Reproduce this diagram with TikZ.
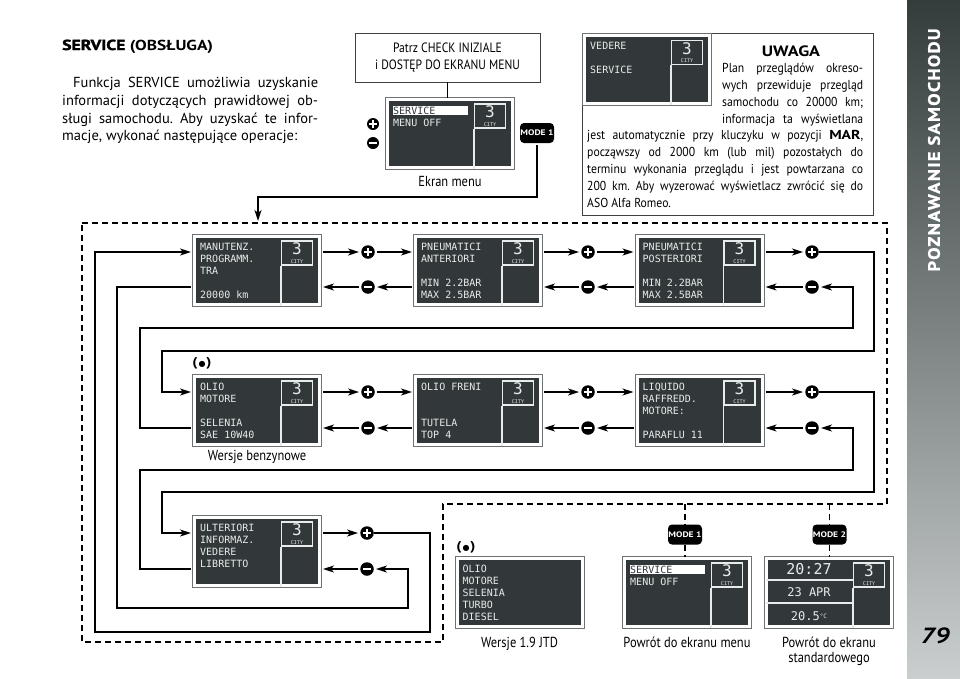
\documentclass[tikz,border=0pt]{standalone}
\usepackage{fontspec}
\setmainfont{PT Sans}
\newfontfamily\narrowfont{PT Sans}[FakeStretch=0.86]
\newfontfamily\notefont{PT Sans}[FakeStretch=0.9]
\newfontfamily\headfont{PT Sans}[FakeStretch=1.2]
\newfontfamily\heavyfont{PT Sans}[FakeStretch=1.22, BoldFeatures={FakeBold=2}]
\newfontfamily\sidefont{PT Sans}[FakeStretch=1.12, LetterSpace=8.0, BoldFeatures={FakeBold=1.2}]
\newfontfamily\lcdfont{DejaVu Sans Mono}
\newfontfamily\symfont{DejaVu Sans}
\usetikzlibrary{positioning, arrows.meta}
\definecolor{LcdGray}{RGB}{50,56,57}
\definecolor{LcdInk}{RGB}{232,235,235}
\definecolor{FrameGray}{RGB}{110,114,114}
\definecolor{SideTop}{RGB}{52,60,60}
\definecolor{SideBot}{RGB}{202,206,207}

% one LCD screen: name, centre x, centre y, lines
\newcommand{\lcdscreen}[4]{%
  \node[lcd] (#1) at (#2,#3) {};
  \node[citybox] (#1-c) at ({#2+40},{#3-17})
        {3\\{\fontsize{5}{5}\selectfont CITY}};
  \draw[lcdline] (#1-c.south west) -- (#1-c.south west |- #1.south);
  \node[lcdtext] (#1-t) at ({#2-57},{#3-27}) {#4};
}
\newcommand{\hlbar}[1]{\rlap{\color{white}\rule[-1pt]{75pt}{9pt}}%
  \textcolor{LcdGray}{#1}}
\newcommand{\dotmark}{(\hspace{1pt}{\symfont\fontsize{8}{8}\selectfont ●}\hspace{1pt})}
\frenchspacing

\begin{document}
\begin{tikzpicture}[x=1pt, y=-1pt,
    lcd/.style={rectangle, fill=LcdGray, draw=white, line width=3pt,
                minimum width=125pt, minimum height=68pt, inner sep=0pt,
                preaction={draw=FrameGray, line width=5pt}},
    citybox/.style={rectangle, draw=LcdInk, line width=1.3pt,
                minimum width=31pt, minimum height=24pt, inner sep=0pt,
                align=center, text=LcdInk,
                font=\lcdfont\fontsize{16}{8.5}\selectfont},
    lcdline/.style={draw=LcdInk, line width=1.3pt},
    lcdtext/.style={anchor=north west, inner sep=0pt, align=left,
                text=LcdInk, font=\lcdfont\fontsize{10}{12}\selectfont},
    lcdbig/.style={text=LcdInk, inner sep=0pt,
                font=\lcdfont\fontsize{15}{15}\selectfont},
    lcdmid/.style={text=LcdInk, inner sep=0pt,
                font=\lcdfont\fontsize{12}{12}\selectfont},
    plusbtn/.style={circle, fill=black, minimum size=13.5pt, inner sep=0pt,
                path picture={\draw[white, line width=2.6pt]
                  ([xshift=-4pt]path picture bounding box.center) --
                  ([xshift=4pt]path picture bounding box.center)
                  ([yshift=-4pt]path picture bounding box.center) --
                  ([yshift=4pt]path picture bounding box.center);}},
    minusbtn/.style={circle, fill=black, minimum size=13.5pt, inner sep=0pt,
                path picture={\draw[white, line width=2.6pt]
                  ([xshift=-4pt]path picture bounding box.center) --
                  ([xshift=4pt]path picture bounding box.center);}},
    modebtn/.style={rectangle, rounded corners=4pt, fill=black, text=white,
                minimum width=34pt, minimum height=20pt, inner sep=0pt,
                font=\headfont\bfseries\fontsize{8}{8}\selectfont},
    infobox/.style={rectangle, draw=black!75, line width=0.9pt, fill=white,
                inner sep=0pt},
    caption/.style={inner sep=1pt, align=center,
                font=\narrowfont\fontsize{14.5}{15}\selectfont},
    notetext/.style={anchor=north west, align=justify, inner sep=0pt,
                font=\notefont\fontsize{13}{17}\selectfont},
    dotlabel/.style={inner sep=0pt,
                font=\headfont\bfseries\fontsize{13}{13}\selectfont},
    wire/.style={line width=1.5pt},
    arr/.style={-{Stealth[length=11pt, width=7pt, inset=3pt]},
                line width=1.5pt, shorten >=2pt, shorten <=2pt},
    dsh/.style={dash pattern=on 6pt off 4pt, line width=1.4pt}
  ]
  \useasboundingbox (0,0) rectangle (960,678);
  \fill[white] (0,0) rectangle (960,678);

  % chapter strip
  \shade[top color=SideTop, bottom color=SideBot] (907,0) rectangle (960,678);
  \node[rotate=90, text=white,
        font=\sidefont\bfseries\fontsize{16.5}{16}\selectfont]
        (chapter) at (934,150) {POZNAWANIE SAMOCHODU};
  \node[font=\headfont\bfseries\itshape\fontsize{22}{22}\selectfont]
        (pageno) at (935,636) {79};

  % heading
  \node[anchor=base west, inner sep=0pt,
        font=\headfont\bfseries\fontsize{14.5}{17}\selectfont]
        (title) at (62,50) {{\heavyfont SERVICE} (OBSŁUGA)};
  \node[anchor=north west, text width=256pt, align=justify, inner sep=0pt,
        font=\fontsize{14.5}{17.8}\selectfont] (intro) at (62,77)
        {\noindent\hspace*{11pt}Funkcja SERVICE umożliwia uzyskanie\linebreak
         informacji dotyczących prawidłowej ob-\linebreak
         sługi samochodu. Aby uzyskać te infor-\linebreak
         macje, wykonać następujące operacje:};

  % menu screen
  \node[infobox, minimum width=185pt, minimum height=49pt, align=center,
        font=\narrowfont\fontsize{13.5}{17}\selectfont] (patrz) at (447.5,57.5)
        {Patrz CHECK INIZIALE\\i DOSTĘP DO EKRANU MENU};
  \lcdscreen{menulcd}{450}{133}{\hlbar{SERVICE}\\MENU OFF}
  \node[plusbtn, minimum size=12pt] (topplus) at (373,124) {};
  \node[minusbtn, minimum size=12pt] (topminus) at (373,143) {};
  \node[modebtn] (modetop) at (537,133) {MODE 1};
  \node[caption, below=7pt of menulcd] (menucap) {Ekran menu};
  \draw[wire] (patrz.south) -- (patrz.south |- menulcd.north);
  \coordinate (entry) at (258,223);
  \draw[arr] (modetop.south) |- (258,197) -- (entry);

  % note
  \node[infobox, minimum width=291pt, minimum height=182pt]
        (uwagabox) at (727.5,124) {};
  \lcdscreen{notelcd}{647}{69.5}{VEDERE\\~\\SERVICE}
  \node[font=\headfont\bfseries\fontsize{15}{16}\selectfont]
        (uwaga) at (791,51) {UWAGA};
  \node[notetext, text width=141pt] (notetop) at (722,63)
        {\parfillskip=0pt\noindent Plan przeglądów okreso-\linebreak
         wych przewiduje przegląd\linebreak
         samochodu co 20000 km;\linebreak
         informacja ta wyświetlana\par};
  \node[notetext, text width=276pt] (notebot) at (587,130)
        {\noindent jest automatycznie przy kluczyku w pozycji
         {\headfont\bfseries MAR},\linebreak
         począwszy od 2000 km (lub mil) pozostałych do\linebreak
         terminu wykonania przeglądu i jest powtarzana co\linebreak
         200 km. Aby wyzerować wyświetlacz zwrócić się do\linebreak
         ASO Alfa Romeo.};

  % service loop
  \draw[dsh] (82,223) -- (887,223) -- (887,504) -- (443,504)
             -- (443,642) -- (82,642) -- cycle;

  \lcdscreen{manut}{257}{270}{MANUTENZ.\\PROGRAMM.\\TRA\\~\\20000 km}
  \lcdscreen{pneuant}{478}{270}{PNEUMATICI\\ANTERIORI\\~\\MIN 2.2BAR\\MAX 2.5BAR}
  \lcdscreen{pneupost}{699.5}{270}{PNEUMATICI\\POSTERIORI\\~\\MIN 2.2BAR\\MAX 2.5BAR}
  \lcdscreen{olio}{257}{410}{OLIO\\MOTORE\\~\\SELENIA\\SAE 10W40}
  \lcdscreen{freni}{478}{410}{OLIO FRENI\\~\\~\\TUTELA\\TOP 4}
  \lcdscreen{liquido}{699.5}{410}{LIQUIDO\\RAFFREDD.\\MOTORE:\\~\\PARAFLU 11}
  \lcdscreen{ulter}{257}{551}{ULTERIORI\\INFORMAZ.\\VEDERE\\LIBRETTO}
  \node[dotlabel] (dotolio) at (202,363) {\dotmark};
  \node[caption, below=4pt of olio] (oliocap) {Wersje benzynowe};

  \node[plusbtn]  (pa) at (368,252) {};
  \node[minusbtn] (ma) at (368,287) {};
  \node[plusbtn]  (pb) at (588,252) {};
  \node[minusbtn] (mb) at (588,287) {};
  \node[plusbtn]  (pc) at (812,252) {};
  \node[minusbtn] (mc) at (812,287) {};
  \node[plusbtn]  (pd) at (368,392) {};
  \node[minusbtn] (md) at (368,428) {};
  \node[plusbtn]  (pe) at (588,392) {};
  \node[minusbtn] (me) at (588,428) {};
  \node[plusbtn]  (pf) at (812,392) {};
  \node[minusbtn] (mf) at (812,428) {};
  \node[plusbtn]  (pg) at (367,533) {};
  \node[minusbtn] (mg) at (367,569) {};

  \draw[arr] (manut.east |- pa) -- (pa);
  \draw[arr] (pa) -- (pneuant.west |- pa);
  \draw[arr] (pneuant.west |- ma) -- (ma);
  \draw[arr] (ma) -- (manut.east |- ma);
  \draw[arr] (pneuant.east |- pb) -- (pb);
  \draw[arr] (pb) -- (pneupost.west |- pb);
  \draw[arr] (pneupost.west |- mb) -- (mb);
  \draw[arr] (mb) -- (pneuant.east |- mb);
  \draw[arr] (pneupost.east |- pc) -- (pc);
  \draw[arr] (mc) -- (pneupost.east |- mc);
  \draw[arr] (olio.east |- pd) -- (pd);
  \draw[arr] (pd) -- (freni.west |- pd);
  \draw[arr] (freni.west |- md) -- (md);
  \draw[arr] (md) -- (olio.east |- md);
  \draw[arr] (freni.east |- pe) -- (pe);
  \draw[arr] (pe) -- (liquido.west |- pe);
  \draw[arr] (liquido.west |- me) -- (me);
  \draw[arr] (me) -- (freni.east |- me);
  \draw[arr] (liquido.east |- pf) -- (pf);
  \draw[arr] (mf) -- (liquido.east |- mf);
  \draw[arr] (ulter.east |- pg) -- (pg);
  \draw[arr] (mg) -- (ulter.east |- mg);

  % wrap-around between rows
  \draw[arr, shorten <=0pt] (pc.east) -| (874,351) -| (162,392) -- (olio.west |- pd);
  \draw[arr] (olio.west |- md) -| (140,328) -| (853,287) -- (mc);
  \draw[arr, shorten <=0pt] (pf.east) -| (874,492) -| (162,533) -- (ulter.west |- pg);
  \draw[arr] (ulter.west |- mg) -| (140,470) -| (853,428) -- (mf);
  \draw[arr, shorten <=0pt] (pg.east) -| (430,632) -| (95,252) -- (manut.west |- pa);
  \draw[arr] (manut.west |- ma) -| (117,608) -| (408,569) -- (mg);

  % exits
  \coordinate (tapb) at (685,504);
  \coordinate (tapc) at (829.5,504);
  \node[modebtn] (modeb) at (685,534.5) {MODE 1};
  \node[modebtn] (modec) at (829.5,534.5) {MODE 2};
  \node[lcd] (jtd) at (519.5,592) {};
  \node[lcdtext] (jtd-t) at (462.5,565) {OLIO\\MOTORE\\SELENIA\\TURBO\\DIESEL};
  \lcdscreen{retmenu}{687}{592}{\hlbar{SERVICE}\\MENU OFF}
  \lcdscreen{retstd}{829}{592}{}
  \draw[lcdline] (766,580) -- (853,580) (766,603) -- (853,603);
  \node[lcdbig] (clock) at (809,569) {20:27};
  \node[lcdmid] (date) at (809,592) {23 APR};
  \node[lcdmid] (temp) at (809,616)
        {20.5\raisebox{1.5pt}{\fontsize{6}{6}\selectfont °C}};
  \draw[dsh] (tapb) -- (modeb.north);
  \draw[dsh] (modeb.south) -- (modeb.south |- retmenu.north);
  \draw[dsh] (tapc) -- (modec.north);
  \draw[dsh] (modec.south) -- (modec.south |- retstd.north);
  \node[dotlabel] (dotjtd) at (466,547) {\dotmark};
  \node[caption, below=8pt of jtd] (jtdcap) {Wersje 1.9 JTD};
  \node[caption, below=8pt of retmenu] (retmenucap) {Powrót do ekranu menu};
  \node[caption, below=8pt of retstd] (retstdcap) {Powrót do ekranu\\standardowego};
\end{tikzpicture}
\end{document}
